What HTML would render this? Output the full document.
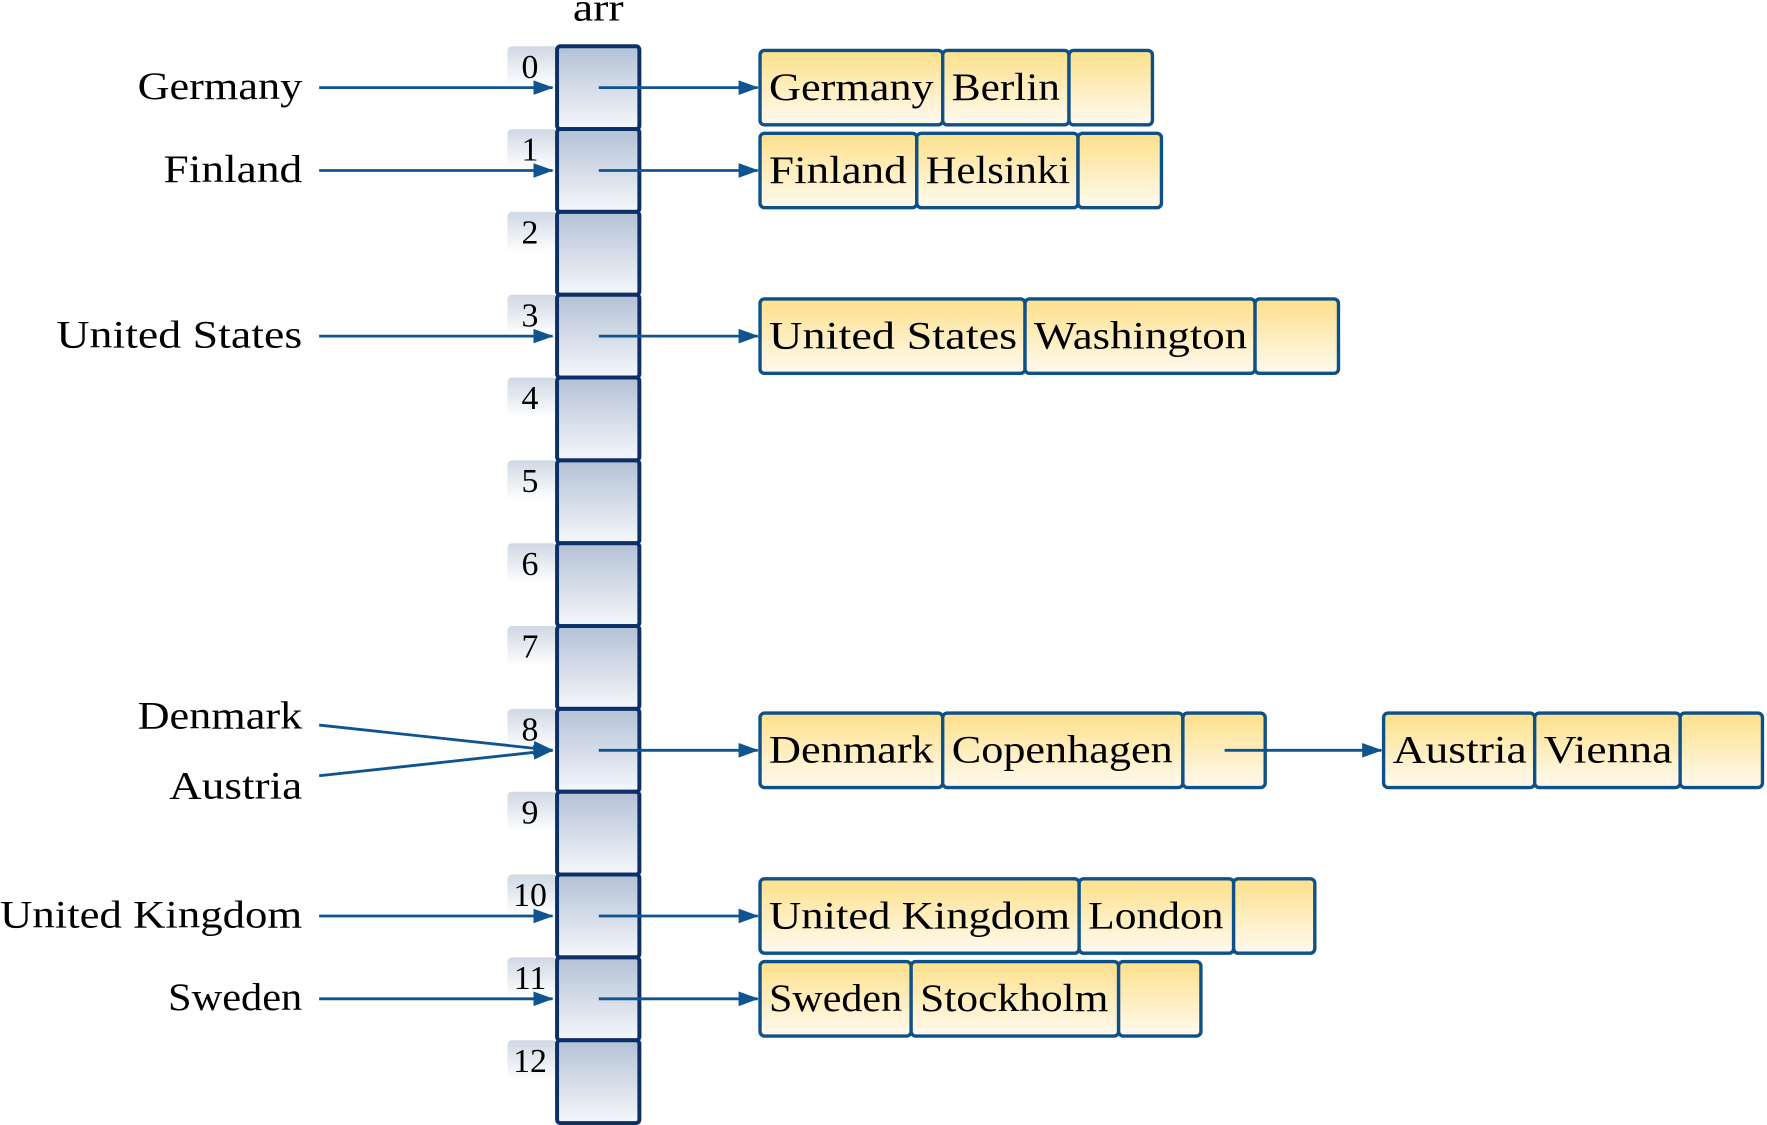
<!DOCTYPE html>
<html><head><meta charset="utf-8"><style>html,body{margin:0;padding:0;background:#fff}svg{display:block}</style></head>
<body>
<svg width="1767" height="1125" viewBox="0 0 1567 997.7" xmlns="http://www.w3.org/2000/svg" font-family="'Liberation Serif',serif" font-size="35">
<defs>
<linearGradient id="b" x1="0" y1="0" x2="0" y2="1"><stop offset="0" stop-color="#b3c1d5"/><stop offset="1" stop-color="#f5f7fb"/></linearGradient>
<linearGradient id="t" x1="0" y1="0" x2="0" y2="1"><stop offset="0" stop-color="#cfd8e4"/><stop offset="1" stop-color="#ffffff"/></linearGradient>
<linearGradient id="y" x1="0" y1="0" x2="0" y2="1"><stop offset="0" stop-color="#fde08a"/><stop offset="1" stop-color="#fffaf0"/></linearGradient>
<marker id="a" markerWidth="18" markerHeight="13" refX="17" refY="6.5" orient="auto" markerUnits="userSpaceOnUse" viewBox="0 0 18 13"><path d="M0,0 L18,6.5 L0,13 z" fill="#0f5490"/></marker>
</defs>
<style>.l{stroke:#0f5490;stroke-width:2.5;fill:none}.c{fill:url(#y);stroke:#0e5189;stroke-width:3}</style>
<text x="508" y="18" textLength="45" lengthAdjust="spacingAndGlyphs">arr</text>
<script>
(function(){
var ns="http://www.w3.org/2000/svg",svg=document.currentScript.parentNode;
function el(n,a,txt){var e=document.createElementNS(ns,n);for(var k in a)e.setAttribute(k,a[k]);if(txt!=null)e.textContent=txt;svg.appendChild(e);return e;}
function tx(x,y,w,s){return el("text",{x:x,y:y,textLength:w,lengthAdjust:"spacingAndGlyphs"},s);}
var h=73.46;
for(var i=0;i<13;i++){var top=41+h*i;
el("rect",{x:450,y:top,width:44,height:36,rx:4,fill:"url(#t)"});
el("text",{x:470,y:top+28,"text-anchor":"middle","font-size":"30"},String(i));}
for(var i=0;i<13;i++){var top=41+h*i;
el("rect",{x:494,y:top,width:73,height:h,rx:3,fill:"url(#b)",stroke:"#0b2f66","stroke-width":"3.5"});}
function cy(i){return 41+h*i+h/2;}
var left=[["Germany",0,146],["Finland",1,123],["United States",3,218],["United Kingdom",10,268],["Sweden",11,119]];
left.forEach(function(p){var y=cy(p[1]);tx(268-p[2],y+10,p[2],p[0]);
el("line",{x1:283,y1:y,x2:490,y2:y,"class":"l","marker-end":"url(#a)"});});
var y8=cy(8);
tx(122,646,146,"Denmark");
tx(150,708,118,"Austria");
el("line",{x1:283,y1:643,x2:490,y2:y8,"class":"l","marker-end":"url(#a)"});
el("line",{x1:283,y1:688,x2:490,y2:y8,"class":"l","marker-end":"url(#a)"});
var rows=[[0,[674,836,948,1022],["Germany","Berlin"],[146,96]],[1,[674,813,956,1030],["Finland","Helsinki"],[122,128]],[3,[674,909,1113,1187],["United States","Washington"],[220,189]],[8,[674,836,1049,1122],["Denmark","Copenhagen"],[146,196]],[10,[674,957,1094,1166],["United Kingdom","London"],[267,120]],[11,[674,808,992,1065],["Sweden","Stockholm"],[118,167]]];
function list(y,xs,names,ws){for(var j=0;j<3;j++){el("rect",{x:xs[j],y:y-33,width:xs[j+1]-xs[j],height:66,rx:4,"class":"c"});
if(j<2)tx(xs[j]+8,y+11,ws[j],names[j]);}}
rows.forEach(function(r){var y=cy(r[0]);el("line",{x1:531,y1:y,x2:672,y2:y,"class":"l","marker-end":"url(#a)"});list(y,r[1],r[2],r[3]);});
el("line",{x1:1086,y1:y8,x2:1225,y2:y8,"class":"l","marker-end":"url(#a)"});
list(y8,[1227,1361,1490,1563],["Austria","Vienna"],[119,114]);
})();
</script>
</svg>
</body></html>
